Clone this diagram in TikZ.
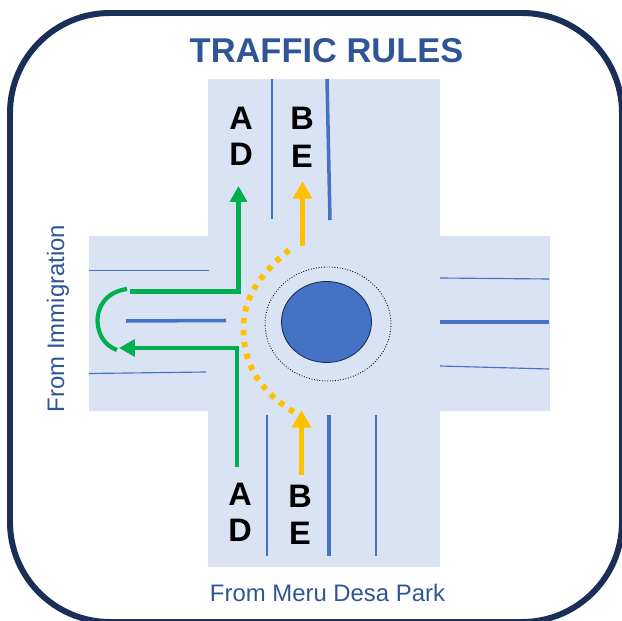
\documentclass[tikz,border=0pt]{standalone}
\usepackage{fontspec}
\setmainfont{Liberation Sans}
\usetikzlibrary{arrows.meta,shapes.geometric}
\definecolor{road}{HTML}{DAE3F3}
\definecolor{lane}{HTML}{4472C4}
\definecolor{titleblue}{HTML}{2F5597}
\definecolor{framenavy}{HTML}{1A2F57}
\definecolor{greenroute}{HTML}{00B050}
\definecolor{yellowroute}{HTML}{FFC000}
\tikzstyle{thinlane}=[draw=lane,line width=0.65pt]
\tikzstyle{thicklane}=[draw=lane,line width=2pt]
\tikzstyle{greenline}=[draw=greenroute,line width=2.4pt]
\tikzstyle{greento}=[greenline,-{Triangle[length=9pt,width=9.5pt]}]
\tikzstyle{yellowto}=[draw=yellowroute,line width=3.4pt,-{Triangle[length=10pt,width=10.5pt]}]
\tikzstyle{yellowdot}=[draw=yellowroute,line width=3.3pt,dash pattern=on 3pt off 3.8pt]
\tikzstyle{letter}=[font=\fontsize{18.5}{20}\selectfont\bfseries,inner sep=0pt]
\tikzstyle{caption}=[font=\fontsize{13.6}{15}\selectfont,text=titleblue,inner sep=0pt]
\begin{document}
\begin{tikzpicture}[x=0.02cm,y=-0.02cm]
            \useasboundingbox (0,0) rectangle (622,621);
            \clip (0,0) rectangle (622,621);
            % roads
            \fill[road] (208,79) rectangle (440,567);
            \fill[road] (89,236) rectangle (550,411);
            % frame
            \draw[framenavy,line width=3.4pt,rounded corners=2cm] (10,13) rectangle (622,622);
            % lanes
            \draw[thinlane] (272,79) -- (272,219);
            \draw[thicklane] (327,79) -- (330,220);
            \draw[thinlane] (89,270.5) -- (209,270.5);
            \draw[thicklane] (126,321) -- (226,320.5);
            \draw[thinlane] (89,373.5) -- (206,372);
            \draw[thinlane] (440,278) -- (549,279);
            \draw[thicklane] (440,322) -- (549,322);
            \draw[thinlane] (440,366) -- (549,369);
            \draw[thinlane] (267,415) -- (267,556);
            \draw[thicklane] (329,415) -- (329,556);
            \draw[thinlane] (376,415) -- (376,556);
            % roundabout
            \node[draw=black,densely dotted,line width=0.5pt,ellipse,minimum width=2.52cm,minimum height=2.28cm,inner sep=0pt] (ring) at (328,324) {};
            \node[draw=framenavy,fill=lane,line width=0.5pt,ellipse,minimum width=1.8cm,minimum height=1.62cm,inner sep=0pt] (island) at (326.5,322) {};
            % green routes
            \coordinate (gUp) at (238.5,186);
            \coordinate (gCornerUp) at (238.5,291.5);
            \coordinate (gStartUp) at (130,291.5);
            \coordinate (gStartLow) at (237,467);
            \coordinate (gCornerLow) at (237,348);
            \coordinate (gTip) at (119,348);
            \coordinate (uA) at (127,289);
            \coordinate (uB) at (97.5,320);
            \coordinate (uC) at (117,350);
            \draw[greento] (gStartUp) -- (gCornerUp) -- (gUp);
            \draw[greento] (gStartLow) -- (gCornerLow) -- (gTip);
            \draw[greenline] (uA) .. controls (105,292) and (97.5,308) .. (uB) .. controls (97.5,332) and (103,345) .. (uC);
            % yellow routes
            \coordinate (yUpS) at (302.5,246);
            \coordinate (yUpE) at (302.5,181);
            \coordinate (yLowS) at (301.5,475);
            \coordinate (yLowE) at (301.5,410);
            \coordinate (dA) at (289,250);
            \coordinate (dB) at (243.5,329);
            \coordinate (dC) at (297,414);
            \draw[yellowto] (yUpS) -- (yUpE);
            \draw[yellowto] (yLowS) -- (yLowE);
            \draw[yellowdot] (dA) .. controls (251,282) and (243.5,305) .. (dB) .. controls (243.5,365) and (260,392) .. (dC);
            % letters
            \node[letter] (a1) at (241,118) {A};
            \node[letter] (d1) at (241,154) {D};
            \node[letter] (b1) at (302,118) {B};
            \node[letter] (e1) at (302,156) {E};
            \node[letter] (a2) at (240,494) {A};
            \node[letter] (d2) at (240,530) {D};
            \node[letter] (b2) at (300,496) {B};
            \node[letter] (e2) at (300,533) {E};
            % captions
            \node[font=\fontsize{19.6}{22}\selectfont\bfseries,text=titleblue,inner sep=0pt] (title) at (326.5,51) {TRAFFIC RULES};
            \node[caption] (south) at (327.5,593) {From Meru Desa Park};
            \node[caption,rotate=90] (west) at (58,318.5) {From Immigration};
        \end{tikzpicture}
\end{document}
